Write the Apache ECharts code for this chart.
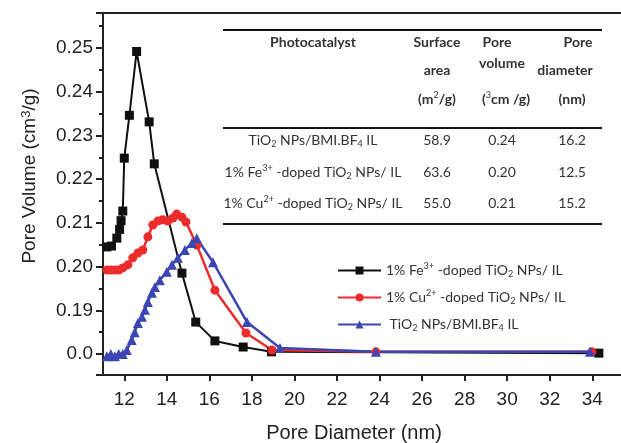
<!DOCTYPE html>
<html><head><meta charset="utf-8">
<script src="https://cdn.jsdelivr.net/npm/echarts@6/dist/echarts.min.js"></script>
<style>html,body{margin:0;padding:0;background:#fff}#c{width:621px;height:443px}</style>
</head><body><div id="c"></div>
<script>
// ---- data ----
const feDiameter = [11.18,11.40,11.65,11.78,11.85,11.93,12.00,12.24,12.58,13.17,13.41,14.71,15.36,16.26,17.59,18.92,34.31];
const feVolume   = [0.2045,0.2047,0.2065,0.2085,0.2105,0.2127,0.2248,0.2346,0.2492,0.2331,0.2235,0.1985,0.1873,0.1830,0.1816,0.1805,0.1802];
const cuDiameter = [11.18,11.37,11.56,11.74,11.93,12.17,12.40,12.64,12.87,13.11,13.34,13.58,13.81,14.05,14.29,14.47,14.71,14.90,15.41,16.26,17.72,18.94,23.83,33.98];
const cuVolume   = [0.1992,0.1992,0.1992,0.1992,0.1997,0.2004,0.2020,0.2031,0.2038,0.2068,0.2095,0.2104,0.2107,0.2104,0.2111,0.2120,0.2113,0.2102,0.2049,0.1946,0.1848,0.1809,0.1805,0.1805];
const tiDiameter = [11.18,11.37,11.56,11.74,11.93,12.12,12.35,12.49,12.64,12.83,12.97,13.11,13.30,13.44,13.67,14.00,14.24,14.52,14.85,15.18,15.41,16.17,17.77,19.32,23.83,33.89];
const tiVolume   = [0.1795,0.1800,0.1795,0.1800,0.1800,0.1809,0.1832,0.1850,0.1871,0.1885,0.1901,0.1919,0.1940,0.1953,0.1969,0.1988,0.2004,0.2020,0.2038,0.2054,0.2065,0.2010,0.1873,0.1814,0.1805,0.1805];

const seriesNames = ['Fe', 'Cu', 'TiO2'];
const legendLabels = [
  '1% Fe{sup|3+} -doped TiO{sub|2} NPs/ IL',
  '1% Cu{sup|2+} -doped TiO{sub|2} NPs/ IL',
  ' TiO{sub|2} NPs/BMI.BF{sub|4} IL'
];
// broken y axis: the lowest labelled tick stands for 0.0
const yBreakValue = 0.18;
const yBreakLabel = '0.0';

// table
const tableHeaders = [
  ['Photocatalyst'],
  ['Surface', 'area', '(m{sup|2}/g)'],
  ['Pore', 'volume', '({sup|3}cm /g)'],
  ['Pore', 'diameter', '(nm)']
];
const tableCatalysts = ['TiO{sub|2} NPs/BMI.BF{sub|4} IL', '1% Fe{sup|3+} -doped TiO{sub|2} NPs/ IL', '1% Cu{sup|2+} -doped TiO{sub|2} NPs/ IL'];
const tableSurface = ['58.9', '63.6', '55.0'];
const tableVolume = ['0.24', '0.20', '0.21'];
const tableDiameter = ['16.2', '12.5', '15.2'];

// ---- chart ----
const zip = (a, b) => a.map((v, i) => [v, b[i]]);
const richSS = {
  sup: { fontSize: 9, fontFamily: 'Lato', color: '#333', verticalAlign: 'top' },
  sub: { fontSize: 9, fontFamily: 'Lato', color: '#333', verticalAlign: 'bottom' }
};
const axisFont = 'Liberation Sans';

function tText(x, y, text, bold) {
  return {
    type: 'text', x: x, y: y, z: 100,
    style: {
      text: text, fill: '#333', font: (bold ? 'bold ' : '') + '14px Lato',
      align: 'center', verticalAlign: 'middle', lineHeight: 17, rich: richSS
    }
  };
}
const graphics = [];
const colX = [313, 437, 502, 572];
const headerX = [[313], [437, 437, 437], [497, 502, 506], [578, 565, 572]];
const headerY = [[42], [42, 70, 99], [42, 63, 99], [42, 70, 99]];
tableHeaders.forEach((col, c) => col.forEach((t, r) => graphics.push(tText(headerX[c][r], headerY[c][r], t, true))));
const rowY = [140, 172, 203];
rowY.forEach((y, i) => {
  graphics.push(tText(colX[0], y, tableCatalysts[i]));
  graphics.push(tText(colX[1], y, tableSurface[i]));
  graphics.push(tText(colX[2], y, tableVolume[i]));
  graphics.push(tText(colX[3], y, tableDiameter[i]));
});
[30, 128, 224].forEach(y => graphics.push({
  type: 'line', z: 100, shape: { x1: 223, y1: y, x2: 602, y2: y },
  style: { stroke: '#111', lineWidth: 2 }
}));

const chart = echarts.init(document.getElementById('c'));
chart.setOption({
  animation: false,
  backgroundColor: '#fff',
  grid: { left: 103, right: 0, top: 13, bottom: 68, containLabel: false, outerBoundsMode: 'none' },
  xAxis: [{
    type: 'value', min: 11, max: 35.35, minInterval: 2, maxInterval: 2,
    name: 'Pore Diameter (nm)', nameLocation: 'middle', nameGap: 48,
    nameTextStyle: { fontFamily: axisFont, fontSize: 20, color: '#222', padding: [0, 16, 0, 0] },
    axisLine: { lineStyle: { color: '#222', width: 2 } },
    axisTick: { show: true, length: 6, lineStyle: { color: '#222', width: 2 } },
    axisLabel: { fontFamily: axisFont, fontSize: 19, color: '#222', margin: 15, showMinLabel: false, showMaxLabel: false },
    splitLine: { show: false }
  }, {
    type: 'value', position: 'top', min: 11, max: 35.35,
    axisLine: { show: true, onZero: false, lineStyle: { color: '#222', width: 2 } },
    axisTick: { show: false }, axisLabel: { show: false }, splitLine: { show: false }
  }],
  yAxis: {
    type: 'value', min: 0.1752, max: 0.258, minInterval: 0.01, maxInterval: 0.01,
    name: 'Pore Volume (cm{sup|3}/g)', nameLocation: 'middle', nameGap: 64,
    nameTextStyle: {
      fontFamily: axisFont, fontSize: 19, color: '#222', padding: [0, 0, 0, 36],
      rich: { sup: { fontSize: 13, fontFamily: axisFont, color: '#222', verticalAlign: 'top' } }
    },
    axisLine: { lineStyle: { color: '#222', width: 2 } },
    axisTick: { length: 7, lineStyle: { color: '#222', width: 2 } },
    minorTick: { show: true, splitNumber: 2, length: 4, lineStyle: { color: '#222', width: 2 } },
    axisLabel: {
      fontFamily: axisFont, fontSize: 19, color: '#222', margin: 10,
      showMinLabel: false, showMaxLabel: false,
      formatter: v => Math.abs(v - yBreakValue) < 1e-6 ? yBreakLabel : v.toFixed(2)
    },
    splitLine: { show: false }
  },
  legend: {
    orient: 'vertical', left: 332, top: 257, itemWidth: 43, itemHeight: 10, itemGap: 10,
    data: seriesNames,
    formatter: name => legendLabels[seriesNames.indexOf(name)],
    textStyle: { fontFamily: 'Lato', fontSize: 14, color: '#333', lineHeight: 17, rich: richSS }
  },
  series: [
    { name: 'Fe', type: 'line', data: zip(feDiameter, feVolume), symbol: 'rect', symbolSize: 9,
      color: '#111111', lineStyle: { width: 2, color: '#111111' }, itemStyle: { color: '#111111' } },
    { name: 'Cu', type: 'line', data: zip(cuDiameter, cuVolume), symbol: 'circle', symbolSize: 9,
      color: '#ec2b2b', lineStyle: { width: 2.5, color: '#ec2b2b' }, itemStyle: { color: '#ec2b2b' } },
    { name: 'TiO2', type: 'line', data: zip(tiDiameter, tiVolume), symbol: 'triangle', symbolSize: 10,
      color: '#3b45b3', lineStyle: { width: 2.5, color: '#3b45b3' }, itemStyle: { color: '#3b45b3' } }
  ],
  graphic: graphics
});
</script></body></html>
